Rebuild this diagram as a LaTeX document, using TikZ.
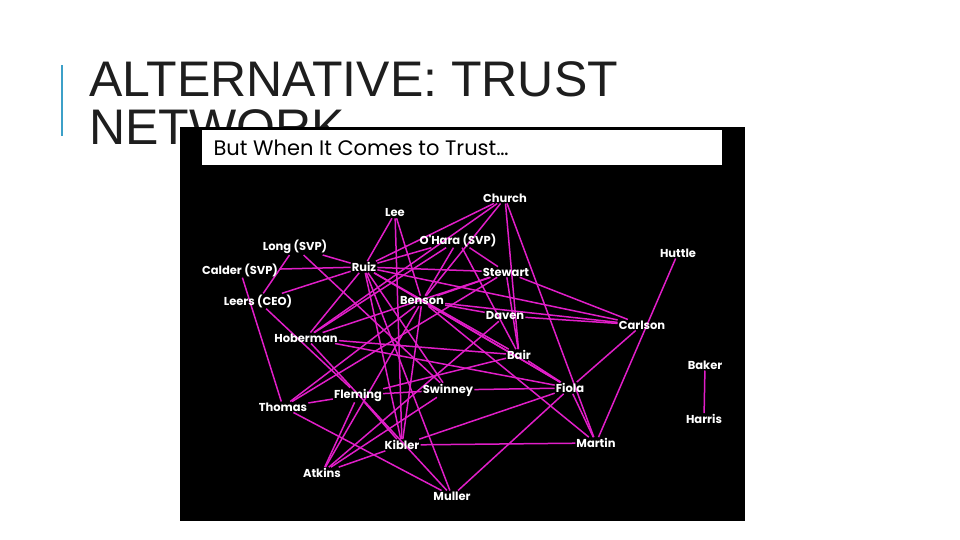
\documentclass[tikz,border=0pt]{standalone}
\usepackage{fontspec}
\setmainfont{Liberation Sans}
\newfontfamily\geo{Poppins}
\usetikzlibrary{backgrounds}
\definecolor{barblue}{RGB}{60,160,200}
\definecolor{titlegray}{RGB}{30,30,30}
\definecolor{pinkline}{RGB}{225,30,200}
\begin{document}
\begin{tikzpicture}[x=1pt,y=-1pt,
  person/.style={text=white,font=\geo\bfseries\fontsize{11.5}{12}\selectfont,inner sep=1pt},
  tie/.style={draw=pinkline,line width=1.5pt}]
\useasboundingbox (0,0) rectangle (960,540);
\foreach \n/\l/\x/\y in {
 church/Church/505/198, lee/Lee/395/213, ohara/{O'Hara (SVP)}/458/240,
 long/{Long (SVP)}/295/247, calder/{Calder (SVP)}/240/270, ruiz/Ruiz/364/267,
 stewart/Stewart/506/272, huttle/Huttle/678/253, leers/{Leers (CEO)}/258/301,
 benson/Benson/422/301, daven/Daven/505/316, carlson/Carlson/642/325,
 hoberman/Hoberman/306/338, bair/Bair/519/355, baker/Baker/705/365,
 thomas/Thomas/283/407, fleming/Fleming/358/395, swinney/Swinney/448/390,
 fiola/Fiola/570/388, harris/Harris/704/419, kibler/Kibler/402/445,
 martin/Martin/596/443, atkins/Atkins/322/473, muller/Muller/452/496}
 \node[person] (\n) at (\x,\y) {\l};
\begin{scope}[on background layer]
\fill[white] (0,0) rectangle (960,540);
\fill[barblue] (61,65) rectangle (63,136);
\node[anchor=base west,font=\fontsize{50}{50}\selectfont,text=titlegray,inner sep=0pt] (t1) at (89,97) {ALTERNATIVE: TRUST};
\node[anchor=base west,font=\fontsize{50}{50}\selectfont,text=titlegray,inner sep=0pt] (t2) at (89,145) {NETWORK};
\fill[black] (180,127) rectangle (745,521);
\fill[white] (202,130) rectangle (722,165);
\node[anchor=west,font=\geo\fontsize{21}{22}\selectfont] (hd) at (210,148) {But When It Comes to Trust\dots};
\foreach \a/\b in {church/ruiz,church/hoberman,church/bair,church/martin,church/benson,
 lee/ruiz,lee/benson,lee/kibler,
 ohara/ruiz,ohara/stewart,ohara/benson,ohara/bair,ohara/hoberman,
 long/leers,long/ruiz,long/swinney,calder/ruiz,calder/thomas,leers/ruiz,leers/fleming,
 ruiz/stewart,ruiz/carlson,ruiz/hoberman,ruiz/kibler,ruiz/swinney,ruiz/muller,ruiz/bair,ruiz/fiola,
 stewart/carlson,stewart/benson,stewart/hoberman,stewart/thomas,stewart/bair,
 huttle/martin,carlson/fiola,
 benson/daven,benson/carlson,benson/fiola,benson/kibler,benson/atkins,benson/thomas,benson/martin,
 daven/carlson,daven/atkins,hoberman/bair,hoberman/fiola,hoberman/muller,
 bair/fleming,bair/fiola,swinney/fiola,swinney/atkins,fleming/swinney,
 thomas/fleming,thomas/muller,fleming/kibler,fleming/atkins,
 kibler/martin,kibler/fiola,kibler/atkins,fiola/muller,fiola/martin,baker/harris}
 \draw[tie] (\a) -- (\b);
\end{scope}
\end{tikzpicture}
\end{document}
